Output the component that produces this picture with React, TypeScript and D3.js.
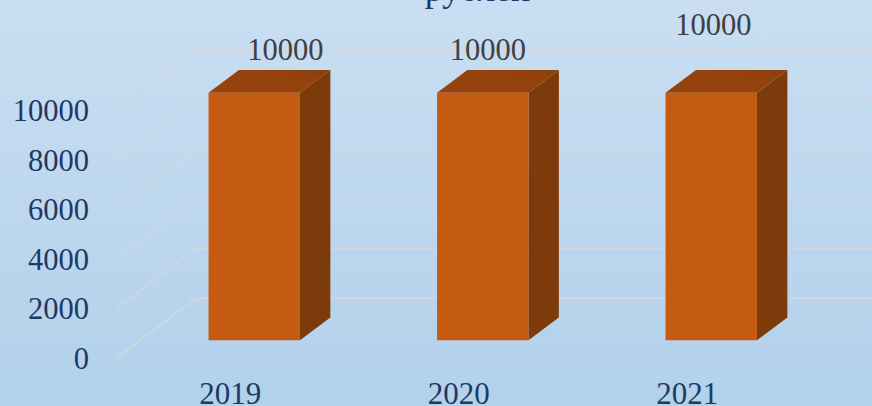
import React from "react";
import * as d3 from "d3";

const categories: string[] = ["2019", "2020", "2021"];
const values: number[] = [10000, 10000, 10000];
const yTicks: number[] = [0, 2000, 4000, 6000, 8000, 10000];
const titleText = "рублей";

const W = 872;
const H = 406;
const FONT = "'Liberation Serif', 'Times New Roman', serif";

// 3D projection layout
const DEPTH = { dx: 80, dy: -60 };
const BAR_FRONT = 0.3;
const BAR_BACK = 0.68;
const BAR_WIDTH_FRAC = 0.4;
// manual label nudges (px) as in the reference
const LABEL_NUDGE = [
  { dx: 31, dy: 0 },
  { dx: 5, dy: 0 },
  { dx: 2, dy: -25 },
];

export default function App() {
  const x = d3.scaleBand<string>().domain(categories).range([116, 801.5]).padding(0);
  const y = d3.scaleLinear().domain([0, 10000]).range([358.3, 110.7]);

  const proj = (px: number, py: number, d: number): [number, number] => [
    px + DEPTH.dx * d,
    py + DEPTH.dy * d,
  ];
  const pts = (arr: [number, number][]) => arr.map((p) => p.join(",")).join(" ");

  const bw = x.bandwidth() * BAR_WIDTH_FRAC;

  return (
    <div style={{ position: "fixed", left: 0, top: 0, width: W, height: H }}>
      <svg width={W} height={H} style={{ display: "block" }}>
        <defs>
          <linearGradient id="bg" x1="0" y1="0" x2="0" y2="1">
            <stop offset="0" stopColor="#C9DEF2" />
            <stop offset="1" stopColor="#B2D1EB" />
          </linearGradient>
          <linearGradient id="topface" x1="0" y1="1" x2="1" y2="0">
            <stop offset="0" stopColor="#96430D" />
            <stop offset="0.75" stopColor="#94420C" />
            <stop offset="1" stopColor="#86400C" />
          </linearGradient>
        </defs>
        <rect x={0} y={0} width={W} height={H} fill="url(#bg)" />

        {/* gridlines: floor slants and back wall */}
        {yTicks.map((t) => {
          const yf = y(t);
          const [bx, by] = proj(x.range()[0], yf, 1);
          const [ex] = proj(x.range()[1], yf, 1);
          return (
            <g key={"g" + t} stroke="#D3D7DB" strokeWidth={1.6} fill="none">
              <line x1={x.range()[0]} y1={yf} x2={bx} y2={by} />
              <line x1={bx} y1={by} x2={ex + 20} y2={by} />
            </g>
          );
        })}

        {/* tick labels */}
        {yTicks.map((t) => (
          <text
            key={"t" + t}
            x={89}
            y={y(t) + 10.5}
            textAnchor="end"
            fontFamily={FONT}
            fontSize={30.5}
            fill="#1F3864"
          >
            {t}
          </text>
        ))}

        {/* bars */}
        {categories.map((c, i) => {
          const cx = (x(c) as number) + x.bandwidth() / 2;
          const l = cx - bw / 2;
          const r = cx + bw / 2;
          const y0 = y(0);
          const y1 = y(values[i]);
          const f = (px: number, py: number) => proj(px, py, BAR_FRONT);
          const b = (px: number, py: number) => proj(px, py, BAR_BACK);
          const front: [number, number][] = [f(l, y1), f(r, y1), f(r, y0), f(l, y0)];
          const top: [number, number][] = [f(l, y1), b(l, y1), b(r, y1), f(r, y1)];
          const side: [number, number][] = [f(r, y1), b(r, y1), b(r, y0), f(r, y0)];
          return (
            <g key={"b" + c}>
              <polygon points={pts(side)} fill="#7D3A0A" />
              <polygon points={pts(top)} fill="url(#topface)" />
              <polygon points={pts(front)} fill="#C55A11" />
            </g>
          );
        })}

        {/* data labels */}
        {categories.map((c, i) => {
          const cx = (x(c) as number) + x.bandwidth() / 2;
          const [tx, ty] = proj(cx, y(values[i]), BAR_BACK);
          return (
            <text
              key={"l" + c}
              x={tx - DEPTH.dx * (BAR_BACK - BAR_FRONT) + LABEL_NUDGE[i].dx}
              y={ty - 10 + LABEL_NUDGE[i].dy}
              textAnchor="middle"
              fontFamily={FONT}
              fontSize={30.5}
              fill="#404040"
            >
              {values[i]}
            </text>
          );
        })}

        {/* category labels */}
        {categories.map((c) => (
          <text
            key={"c" + c}
            x={(x(c) as number) + x.bandwidth() / 2}
            y={403.5}
            textAnchor="middle"
            fontFamily={FONT}
            fontSize={31}
            fill="#1F3864"
          >
            {c}
          </text>
        ))}

        {/* title (partially visible) */}
        <text x={477.5} y={1} textAnchor="middle" fontFamily={FONT} fontSize={36} fill="#1F3864">
          {titleText}
        </text>
      </svg>
    </div>
  );
}
